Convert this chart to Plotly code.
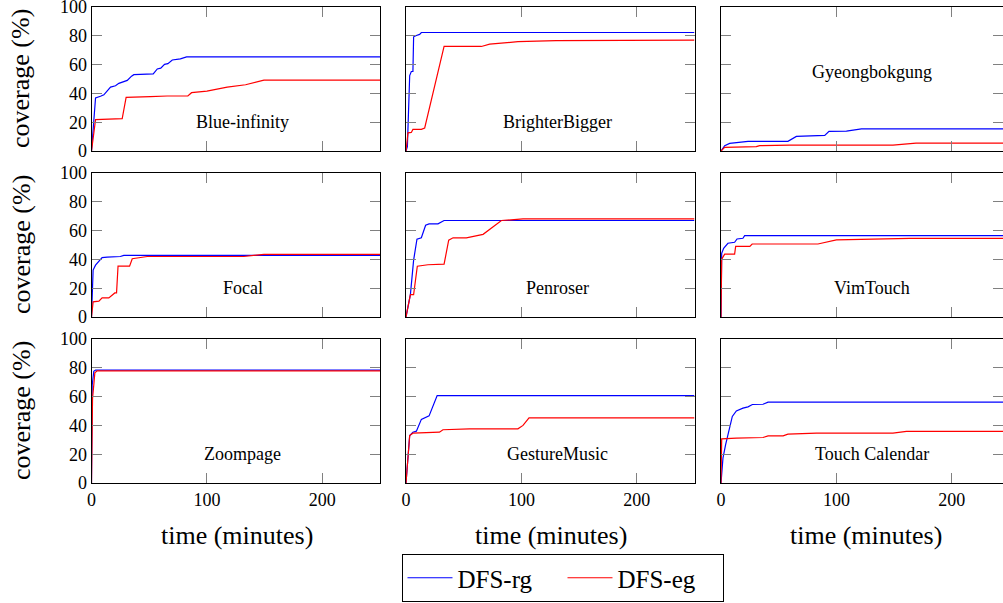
import plotly.graph_objects as go

W, H = 1003, 603

apps = ["Blue-infinity", "BrighterBigger", "Gyeongbokgung",
        "Focal", "Penroser", "VimTouch",
        "Zoompage", "GestureMusic", "Touch Calendar"]

# ---- data (time in minutes, coverage in %) ----
blue_infinity_rg_t = [0, 3.5, 7.8, 10.7, 16.5, 20.8, 23.7, 28, 31, 34.7, 36.7, 53.5, 57, 60, 63.3, 66.2, 70, 77, 82.4, 250]
blue_infinity_rg_y = [0, 36.8, 38, 39, 44.4, 45.3, 47, 48, 49, 52, 53, 53.6, 57, 57.5, 60.2, 60.7, 63.2, 64, 65.3, 65.3]
blue_infinity_eg_t = [0, 3.5, 26.6, 30, 51, 65.6, 83.5, 86.7, 100, 117.6, 133.5, 149.4, 250]
blue_infinity_eg_y = [0, 21.8, 22.5, 37.2, 37.7, 38.2, 38.2, 40.5, 41.6, 44.4, 46, 49.2, 49.2]

brighterbigger_rg_t = [0, 1.2, 3.2, 4.6, 6, 6.6, 9, 11.8, 13.3, 250]
brighterbigger_rg_y = [0, 3, 52.4, 55.2, 55.2, 79.3, 80.2, 81, 82.3, 82.3]
brighterbigger_eg_t = [0, 1.7, 4.6, 6, 13.3, 16.2, 33, 65.3, 72.5, 97, 130, 202.6, 250]
brighterbigger_eg_y = [0, 12.6, 12.9, 15, 15, 16, 72.6, 72.6, 74.2, 75.9, 76.6, 77, 77]

gyeongbokgung_rg_t = [0, 3.2, 7.5, 11.8, 23.4, 58, 65.3, 89.9, 93.6, 108.7, 121.7, 250]
gyeongbokgung_rg_y = [0, 3.7, 5.3, 5.7, 6.7, 6.7, 10.1, 10.8, 13.6, 13.8, 15.4, 15.4]
gyeongbokgung_eg_t = [0, 3.2, 30.6, 33.5, 59.5, 149, 169, 250]
gyeongbokgung_eg_y = [0, 2.5, 3, 3.7, 4.1, 4.1, 5.5, 5.5]

focal_rg_t = [0, 1.4, 3.5, 6.4, 9.2, 13.6, 25, 28, 250]
focal_rg_y = [0, 32.6, 36, 39, 41.2, 41.6, 42, 42.8, 42.8]
focal_eg_t = [0, 1.4, 6.4, 9.2, 15, 18, 20.2, 21.7, 23, 33, 35.3, 48.3, 132, 149.4, 250]
focal_eg_y = [0, 10.5, 11, 13.3, 13.3, 15, 16.7, 16.7, 35.3, 35.3, 40.5, 42, 42, 43.5, 43.5]

penroser_rg_t = [0, 3.8, 6.6, 9.5, 13.3, 17, 20, 27.7, 33, 250]
penroser_rg_y = [0, 15.6, 39.5, 54, 55, 63.7, 64.7, 64.7, 67, 67]
penroser_eg_t = [0, 3.8, 6.6, 9.8, 19, 33, 37, 40.8, 52.3, 66.8, 82.7, 101.4, 250]
penroser_eg_y = [0, 15.6, 15.6, 35.3, 36.3, 36.7, 53.3, 55, 55, 57.4, 67, 68.1, 68.1]

vimtouch_rg_t = [0, 0.6, 2.3, 6, 11.8, 13.9, 19, 20.5, 250]
vimtouch_rg_y = [0, 44.2, 47.7, 51.2, 51.9, 54.2, 54.7, 56.5, 56.5]
vimtouch_eg_t = [0, 0.6, 3.2, 11.8, 12.7, 25, 27, 84, 100, 163.6, 250]
vimtouch_eg_y = [0, 40.2, 43.7, 43.7, 49, 49, 50.7, 50.7, 53.5, 54.6, 54.6]

zoompage_rg_t = [0, 0.6, 2, 3.5, 250]
zoompage_rg_y = [0, 68, 77.6, 78.4, 78.4]
zoompage_eg_t = [0, 0.9, 2, 2.9, 4.9, 250]
zoompage_eg_y = [0, 58.8, 68.2, 76.5, 77.9, 77.9]

gesturemusic_rg_t = [0, 3.2, 6, 9, 13.3, 16.2, 20, 27, 250]
gesturemusic_rg_y = [0, 33, 35.3, 36, 44.2, 45.2, 46.6, 60.7, 60.7]
gesturemusic_eg_t = [0, 3.2, 6, 29, 32, 55, 97, 101.4, 106.6, 250]
gesturemusic_eg_y = [0, 33, 34.6, 35.3, 37, 37.6, 37.6, 40, 45.2, 45.2]

touchcal_rg_t = [0, 1.7, 4, 7.5, 9.8, 13.3, 19, 23.4, 27.2, 36.4, 40.8, 250]
touchcal_rg_y = [0, 17.3, 26.6, 38, 46.2, 50, 52, 52.9, 54.5, 54.7, 56.1, 56.1]
touchcal_eg_t = [0, 0.6, 13.3, 36.4, 40.8, 53.8, 58, 82.7, 149, 160.7, 250]
touchcal_eg_y = [0, 30.7, 31.2, 31.6, 32.7, 32.7, 33.9, 34.6, 34.6, 35.8, 35.8]

series_rg = [(blue_infinity_rg_t, blue_infinity_rg_y), (brighterbigger_rg_t, brighterbigger_rg_y),
             (gyeongbokgung_rg_t, gyeongbokgung_rg_y), (focal_rg_t, focal_rg_y),
             (penroser_rg_t, penroser_rg_y), (vimtouch_rg_t, vimtouch_rg_y),
             (zoompage_rg_t, zoompage_rg_y), (gesturemusic_rg_t, gesturemusic_rg_y),
             (touchcal_rg_t, touchcal_rg_y)]
series_eg = [(blue_infinity_eg_t, blue_infinity_eg_y), (brighterbigger_eg_t, brighterbigger_eg_y),
             (gyeongbokgung_eg_t, gyeongbokgung_eg_y), (focal_eg_t, focal_eg_y),
             (penroser_eg_t, penroser_eg_y), (vimtouch_eg_t, vimtouch_eg_y),
             (zoompage_eg_t, zoompage_eg_y), (gesturemusic_eg_t, gesturemusic_eg_y),
             (touchcal_eg_t, touchcal_eg_y)]

label_y = [20, 20, 55, 20, 20, 20, 20, 20, 20]
x_ticks = [0, 100, 200]
y_ticks = [0, 20, 40, 60, 80, 100]
legend_names = ["DFS-rg", "DFS-eg"]

# ---- layout geometry (pixels) ----
col_px = [(91.5, 380.0), (406.0, 694.5), (721.0, 1003.0)]
row_px = [(7.0, 151.0), (173.0, 317.0), (339.0, 483.0)]
px_per_min = (380.0 - 91.5) / 250.0
serif = "Liberation Serif"
tickfont = dict(family=serif, size=18, color="black")

fig = go.Figure()
layout = dict(width=W, height=H, margin=dict(l=0, r=0, t=0, b=0, autoexpand=False),
              template="none",
              plot_bgcolor="white", paper_bgcolor="white", annotations=[])

for i, name in enumerate(apps):
    r, c = divmod(i, 3)
    k = i + 1
    xa = "x" if k == 1 else f"x{k}"
    ya = "y" if k == 1 else f"y{k}"
    x0, x1 = col_px[c]
    y0, y1 = row_px[r]
    xmax = (x1 - x0) / px_per_min
    common = dict(ticks="inside", ticklen=10, tickwidth=1.3, tickcolor="#808080",
                  showline=True, linecolor="black", linewidth=1, mirror="ticks",
                  showgrid=False, zeroline=False, tickfont=tickfont, automargin=False,
                  ticklabeloverflow="allow")
    layout["xaxis" if k == 1 else f"xaxis{k}"] = dict(
        domain=[x0 / W, x1 / W], range=[0, xmax], anchor=ya,
        tickvals=x_ticks, showticklabels=(r == 2), **common)
    layout["yaxis" if k == 1 else f"yaxis{k}"] = dict(
        domain=[1 - y1 / H, 1 - y0 / H], range=[0, 100], anchor=xa,
        tickvals=y_ticks, showticklabels=(c == 0), **common)
    trg, yrg = series_rg[i]
    teg, yeg = series_eg[i]
    fig.add_trace(go.Scatter(x=trg, y=yrg, mode="lines", name=legend_names[0],
                             line=dict(color="#0000ff", width=1.2),
                             showlegend=(i == 0), xaxis=xa, yaxis=ya))
    fig.add_trace(go.Scatter(x=teg, y=yeg, mode="lines", name=legend_names[1],
                             line=dict(color="#ff0000", width=1.2),
                             showlegend=(i == 0), xaxis=xa, yaxis=ya))
    layout["annotations"].append(dict(
        x=131, y=label_y[i], xref=xa, yref=ya, text=name, showarrow=False,
        xanchor="center", yanchor="middle", font=dict(family=serif, size=18, color="black")))

for r in range(3):
    y0, y1 = row_px[r]
    layout["annotations"].append(dict(
        x=21 / W, y=1 - (y0 + y1) / 2 / H, xref="paper", yref="paper",
        text="coverage (%)", textangle=-90, showarrow=False,
        xanchor="center", yanchor="middle",
        font=dict(family=serif, size=26, color="black")))

for c in range(3):
    x0, _ = col_px[c]
    xc = x0 + 125 * px_per_min + 1
    layout["annotations"].append(dict(
        x=xc / W, y=1 - 535 / H, xref="paper", yref="paper",
        text="time (minutes)", showarrow=False, xanchor="center", yanchor="middle",
        font=dict(family=serif, size=26, color="black")))

layout["legend"] = dict(orientation="h", x=562.5 / W, y=1 - 578 / H,
                        xanchor="center", yanchor="middle",
                        bordercolor="black", borderwidth=1, bgcolor="white",
                        font=dict(family=serif, size=25, color="black"),
                        itemwidth=45, entrywidth=100, entrywidthmode="pixels")

fig.update_layout(**layout)
fig.write_html("out.html", config={"displayModeBar": False},
               post_script="document.body.style.margin='0px';")
